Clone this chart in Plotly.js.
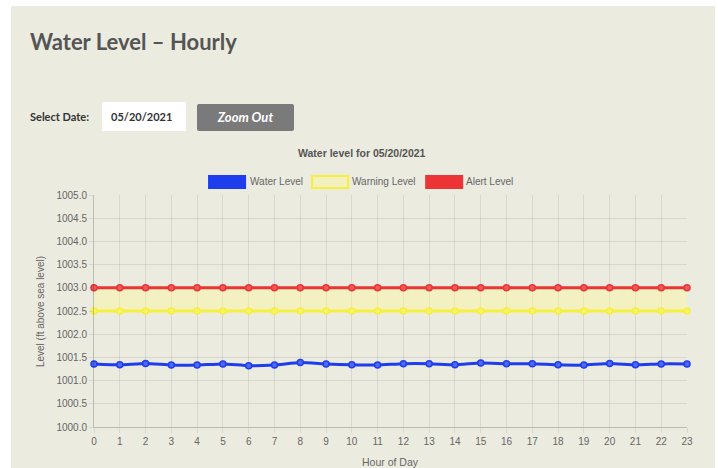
<!DOCTYPE html>
<html>
<head>
<meta charset="utf-8">
<script src="https://cdn.plot.ly/plotly-3.0.1.min.js"></script>
<style>
  html, body { margin:0; padding:0; background:#ffffff; width:718px; height:468px; overflow:hidden; }
  #page { position:absolute; left:11px; top:6px; width:704px; height:462px; background:#ecebe0; }
  #hdr { position:absolute; left:30px; top:28px; font-family:Lato, "Open Sans", sans-serif; font-weight:700; font-size:22px; color:#555; white-space:nowrap; }
  #lbl { position:absolute; left:30px; top:110px; font-family:Lato, sans-serif; font-weight:700; font-size:11px; color:#333; }
  #inp { position:absolute; left:102px; top:102px; width:84px; height:29px; background:#fff; font-family:Lato, sans-serif; font-weight:700; font-size:11px; color:#333; line-height:29px; text-indent:9px; }
  #btn { position:absolute; left:197px; top:104px; width:97px; height:27px; background:#7a7a7a; border-radius:2px; font-family:Lato, sans-serif; font-weight:700; font-style:italic; font-size:13px; color:#fff; line-height:27px; text-align:center; }
  #chart { position:absolute; left:0; top:0; width:718px; height:468px; }
</style>
</head>
<body>
<div id="page"></div>
<div id="hdr">Water Level – Hourly</div>
<div id="lbl">Select Date:</div>
<div id="inp">05/20/2021</div>
<div id="btn">Zoom Out</div>
<div id="chart"></div>
<script>
const hours = [0,1,2,3,4,5,6,7,8,9,10,11,12,13,14,15,16,17,18,19,20,21,22,23];
const hourLabels = hours.map(String);
const waterLevel = [1001.36,1001.34,1001.37,1001.335,1001.335,1001.36,1001.32,1001.335,1001.39,1001.36,1001.34,1001.335,
                    1001.365,1001.365,1001.34,1001.38,1001.365,1001.365,1001.34,1001.335,1001.37,1001.34,1001.36,1001.36];
const warningLevel = [1002.5,1002.5,1002.5,1002.5,1002.5,1002.5,1002.5,1002.5,1002.5,1002.5,1002.5,1002.5,
                      1002.5,1002.5,1002.5,1002.5,1002.5,1002.5,1002.5,1002.5,1002.5,1002.5,1002.5,1002.5];
const alertLevel = [1003,1003,1003,1003,1003,1003,1003,1003,1003,1003,1003,1003,
                    1003,1003,1003,1003,1003,1003,1003,1003,1003,1003,1003,1003];
const seriesNames = ["Water Level","Warning Level","Alert Level"];
const yTicks = [1000,1000.5,1001,1001.5,1002,1002.5,1003,1003.5,1004,1004.5,1005];
const chartTitle = "Water level for 05/20/2021";
const xTitle = "Hour of Day";
const yTitle = "Level (ft above sea level)";

const W = 718, H = 468;
const L = 94, R = 686.7, T = 195, B = 426.7;
const px = v => (v - L) / (R - L);
const py = v => (B - v) / (B - T);

const blue = 'rgb(30,62,238)', yellow = 'rgb(246,240,60)', red = 'rgb(236,52,52)';
const font = "Liberation Sans, Arial, Helvetica, sans-serif";

const traces = [
  { x: hours, y: waterLevel, name: seriesNames[0], mode: 'lines+markers', cliponaxis: false,
    line: { color: blue, width: 3, shape: 'spline', smoothing: 0.5 },
    marker: { size: 6, color: 'rgb(80,105,240)', line: { color: blue, width: 1.5 } } },
  { x: hours, y: warningLevel, name: seriesNames[1], mode: 'lines+markers', cliponaxis: false,
    line: { color: yellow, width: 3 },
    marker: { size: 6, color: 'rgb(246,242,110)', line: { color: yellow, width: 1.5 } } },
  { x: hours, y: alertLevel, name: seriesNames[2], mode: 'lines+markers', cliponaxis: false,
    fill: 'tonexty', fillcolor: 'rgba(255,250,150,0.4)',
    line: { color: red, width: 3 },
    marker: { size: 6, color: 'rgb(236,90,90)', line: { color: red, width: 1.5 } } }
];

const colors = [blue, yellow, red];
const boxes = [[209,245],[312,348],[426,462]];
const shapes = boxes.map((b,i) => ({
  type: 'rect', xref: 'paper', yref: 'paper',
  x0: px(b[0]), x1: px(b[1]), y0: py(188), y1: py(176),
  fillcolor: i === 1 ? 'rgb(242,240,190)' : colors[i], line: { color: colors[i], width: 2 }
}));

const annotations = [
  { text: '<b>' + chartTitle + '</b>', xref: 'paper', yref: 'paper', x: px(362), y: py(153),
    showarrow: false, font: { family: font, size: 10.5, color: '#555' }, xanchor: 'center', yanchor: 'middle' },
  { text: xTitle, xref: 'paper', yref: 'paper', x: px(390), y: py(462),
    showarrow: false, font: { family: font, size: 10.5, color: '#666' }, xanchor: 'center', yanchor: 'middle' },
  { text: yTitle, xref: 'paper', yref: 'paper', x: px(40), y: py(311), textangle: -90,
    showarrow: false, font: { family: font, size: 10, color: '#666' }, xanchor: 'center', yanchor: 'middle' }
];
const legendTextX = [248, 350, 464];
seriesNames.forEach((n,i) => annotations.push({
  text: n, xref: 'paper', yref: 'paper', x: px(legendTextX[i]), y: py(182),
  showarrow: false, font: { family: font, size: 10, color: '#666' }, xanchor: 'left', yanchor: 'middle'
}));

const layout = {
  width: W, height: H, autosize: false,
  margin: { l: L, r: W - R, t: T, b: H - B, pad: 0 },
  paper_bgcolor: 'rgba(0,0,0,0)', plot_bgcolor: 'rgba(0,0,0,0)',
  showlegend: false,
  xaxis: { range: [0, 23], tickvals: hours, ticktext: hourLabels, showgrid: true,
    gridcolor: 'rgba(0,0,0,0.08)', gridwidth: 1, zeroline: false,
    showline: true, linecolor: 'rgba(0,0,0,0.2)', linewidth: 1,
    ticks: 'outside', ticklen: 5, tickcolor: 'rgba(0,0,0,0.08)',
    tickfont: { family: font, size: 10, color: '#666' }, fixedrange: true },
  yaxis: { range: [1000, 1005], tickvals: yTicks, tickformat: '.1f', showgrid: true,
    gridcolor: 'rgba(0,0,0,0.08)', gridwidth: 1, zeroline: false,
    showline: true, linecolor: 'rgba(0,0,0,0.2)', linewidth: 1,
    ticks: 'outside', ticklen: 4, tickcolor: 'rgba(0,0,0,0.08)',
    tickfont: { family: font, size: 10, color: '#666' }, fixedrange: true },
  shapes: shapes,
  annotations: annotations
};

Plotly.newPlot('chart', traces, layout, { displayModeBar: false, staticPlot: true });
</script>
</body>
</html>
